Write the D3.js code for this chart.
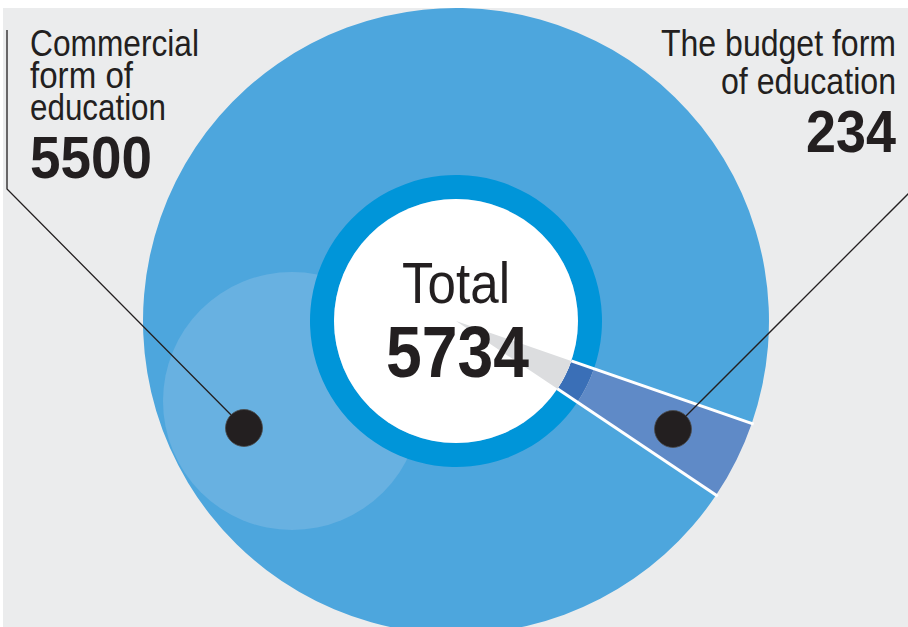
<!DOCTYPE html>
<html>
<head>
<meta charset="utf-8">
<script src="https://cdn.jsdelivr.net/npm/d3@7"></script>
<style>
  html, body { margin: 0; padding: 0; background: #ffffff; }
  svg { display: block; }
  text { font-family: "Liberation Sans Narrow", "Liberation Sans", Arial, sans-serif; fill: #231f20; }
</style>
</head>
<body>
<svg id="chart" width="908" height="627"></svg>
<script>
// ---- data ----
const categories = ["Commercial form of education", "The budget form of education"];
const values = [5500, 234];
const totalLabel = "Total";
const total = values[0] + values[1];

// ---- layout ----
const W = 908, H = 627;
const cx = 456, cy = 321;
const R = 313, ringOuter = 146, ringInner = 122;
const deg = Math.PI / 180;
const budgetStart = 109.1 * deg;

const svg = d3.select("#chart");
svg.append("rect").attr("x", 0).attr("y", 0).attr("width", W).attr("height", H).attr("fill", "#ffffff");
svg.append("rect").attr("x", 3).attr("y", 8).attr("width", W - 3).attr("height", H - 8).attr("fill", "#ebeced");

const defs = svg.append("defs");
defs.append("clipPath").attr("id", "panel")
  .append("rect").attr("x", 3).attr("y", 8).attr("width", W - 3).attr("height", H - 8);

const g = svg.append("g").attr("clip-path", "url(#panel)")
  .append("g").attr("transform", `translate(${cx},${cy})`);

// pie: budget first, starting at budgetStart, commercial fills the rest
const pie = d3.pie().sort(null).value(d => d.value)
  .startAngle(budgetStart).endAngle(budgetStart + 2 * Math.PI);
const arcsData = pie([{ key: categories[1], value: values[1] }, { key: categories[0], value: values[0] }]);
const budget = arcsData[0], commercial = arcsData[1];

const outerArc = d3.arc().innerRadius(0).outerRadius(R);
const ringArc = d3.arc().innerRadius(ringInner).outerRadius(ringOuter);
const coreArc = d3.arc().innerRadius(0).outerRadius(ringInner);
const budgetOuterArc = d3.arc().innerRadius(ringOuter).outerRadius(R);

// commercial outer slice
g.append("path").attr("d", outerArc(commercial)).attr("fill", "#4da6dd");
// light highlight circle
g.append("circle").attr("cx", 292 - cx).attr("cy", 401 - cy).attr("r", 129).attr("fill", "#68b1e1");
// budget outer slice
g.append("path").attr("d", budgetOuterArc(budget)).attr("fill", "#5f8ac7");
// ring
g.append("path").attr("d", ringArc(commercial)).attr("fill", "#0095d9");
g.append("path").attr("d", ringArc(budget)).attr("fill", "#3a6fb7");
// white core
g.append("circle").attr("r", ringInner).attr("fill", "#ffffff");
g.append("path").attr("d", coreArc(budget)).attr("fill", "#dcdddf");
// white edges of budget slice
[budget.startAngle, budget.endAngle].forEach(a => {
  g.append("line")
    .attr("x1", Math.sin(a) * ringInner).attr("y1", -Math.cos(a) * ringInner)
    .attr("x2", Math.sin(a) * (R + 2)).attr("y2", -Math.cos(a) * (R + 2))
    .attr("stroke", "#ffffff").attr("stroke-width", 3);
});

// leader lines and dots
const lead = svg.append("g").attr("clip-path", "url(#panel)");
lead.append("polyline").attr("points", "7,30 7,189 244,428")
  .attr("fill", "none").attr("stroke", "#231f20").attr("stroke-width", 1.3);
lead.append("line").attr("x1", 673).attr("y1", 429).attr("x2", 912).attr("y2", 190)
  .attr("stroke", "#231f20").attr("stroke-width", 1.3);
lead.append("circle").attr("cx", 244).attr("cy", 428).attr("r", 18.5).attr("fill", "#231f20").attr("stroke", "#4a4a4a").attr("stroke-width", 0.8);
lead.append("circle").attr("cx", 673).attr("cy", 429).attr("r", 18.5).attr("fill", "#231f20").attr("stroke", "#4a4a4a").attr("stroke-width", 0.8);

// text
function txt(s, x, y, size, weight, w) {
  svg.append("text").attr("x", x).attr("y", y)
    .attr("font-size", size).attr("font-weight", weight)
    .attr("textLength", w).attr("lengthAdjust", "spacingAndGlyphs")
    .text(s);
}
txt("Commercial", 30, 56, 36, 400, 169);
txt("form of", 30, 88, 36, 400, 103);
txt("education", 30, 120, 36, 400, 136);
txt(String(values[0]), 30, 178, 60, 700, 122);

txt("The budget form", 661, 56, 36, 400, 235);
txt("of education", 721, 94, 36, 400, 175);
txt(String(values[1]), 806, 152, 59, 700, 90);

txt(totalLabel, 402, 303, 57, 400, 108);
txt(String(total), 386, 377, 72, 700, 143);
</script>
</body>
</html>
